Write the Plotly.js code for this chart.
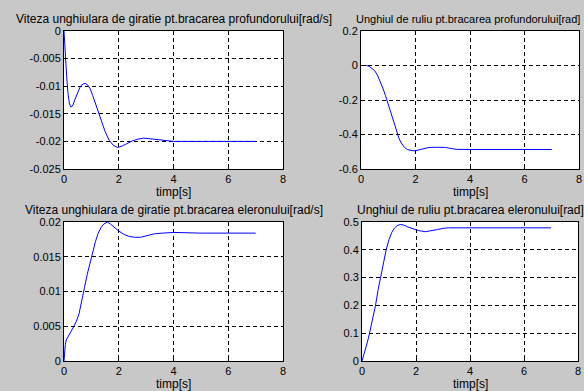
<!DOCTYPE html>
<html>
<head>
<meta charset="utf-8">
<script src="https://cdn.plot.ly/plotly-3.0.1.min.js"></script>
<style>html,body{margin:0;padding:0;background:#c8c8c8;}#chart{width:584px;height:391px;}</style>
</head>
<body>
<div id="chart"></div>
<script>
// Titles
const titles = [
  "Viteza unghiulara de giratie pt.bracarea profundorului[rad/s]",
  "Unghiul de ruliu pt.bracarea profundorului[rad]",
  "Viteza unghiulara de giratie pt.bracarea eleronului[rad/s]",
  "Unghiul de ruliu pt.bracarea eleronului[rad]"
];
const xLabel = "timp[s]";

// X ticks (shared)
const xTickVals = [0, 2, 4, 6, 8];
const xTickText = ["0", "2", "4", "6", "8"];

// Plot 1: yaw rate, elevator
const t1 = [0,0.02,0.05,0.1,0.15,0.2,0.26,0.33,0.4,0.5,0.6,0.7,0.77,0.85,0.95,1.05,1.2,1.35,1.5,1.65,1.8,1.95,2.1,2.3,2.5,2.7,2.9,3.1,3.4,3.7,4.0,5,6,7];
const y1 = [0,-0.002,-0.0048,-0.0085,-0.0115,-0.0132,-0.0138,-0.0134,-0.0124,-0.011,-0.01,-0.0096,-0.0095,-0.0097,-0.0104,-0.0117,-0.0138,-0.0162,-0.0182,-0.0198,-0.0207,-0.0211,-0.0209,-0.0204,-0.0199,-0.0196,-0.0194,-0.0195,-0.0197,-0.0199,-0.02,-0.02,-0.02,-0.02];
const y1TickVals = [0,-0.005,-0.01,-0.015,-0.02,-0.025];
const y1TickText = ["0","-0.005","-0.01","-0.015","-0.02","-0.025"];

// Plot 2: roll angle, elevator
const t2 = [0,0.2,0.3,0.4,0.5,0.6,0.7,0.8,0.9,1.0,1.1,1.2,1.3,1.4,1.5,1.6,1.7,1.8,1.9,2.0,2.1,2.3,2.5,2.8,3.1,3.3,3.5,4,5,6,7];
const y2 = [0,0,-0.005,-0.015,-0.03,-0.055,-0.09,-0.13,-0.175,-0.225,-0.28,-0.33,-0.385,-0.425,-0.455,-0.475,-0.487,-0.492,-0.494,-0.494,-0.49,-0.48,-0.475,-0.474,-0.475,-0.481,-0.486,-0.487,-0.487,-0.487,-0.487];
const y2TickVals = [0.2,0,-0.2,-0.4,-0.6];
const y2TickText = ["0.2","0","-0.2","-0.4","-0.6"];

// Plot 3: yaw rate, aileron
const t3 = [0,0.02,0.05,0.08,0.15,0.25,0.35,0.45,0.55,0.65,0.75,0.85,0.95,1.05,1.15,1.25,1.35,1.45,1.58,1.7,1.85,2.0,2.2,2.4,2.6,2.8,3.0,3.3,3.6,4.0,5,6,7];
const y3 = [0,0.0012,0.0024,0.003,0.0036,0.0042,0.0049,0.0057,0.0068,0.0085,0.0106,0.0125,0.0142,0.0157,0.0172,0.0184,0.0192,0.0197,0.02,0.0197,0.0192,0.0187,0.0182,0.0179,0.0178,0.0178,0.018,0.0183,0.0184,0.0185,0.0184,0.0184,0.0184];
const y3TickVals = [0,0.005,0.01,0.015,0.02];
const y3TickText = ["0","0.005","0.01","0.015","0.02"];

// Plot 4: roll angle, aileron
const t4 = [0,0.1,0.2,0.28,0.4,0.5,0.6,0.7,0.8,0.9,1.0,1.1,1.2,1.3,1.42,1.55,1.7,1.9,2.1,2.35,2.6,2.8,3.0,3.2,4,5,6,7];
const y4 = [0,0.03,0.068,0.1,0.153,0.2,0.258,0.31,0.36,0.402,0.437,0.462,0.478,0.487,0.491,0.489,0.482,0.475,0.469,0.465,0.468,0.473,0.477,0.479,0.479,0.479,0.479,0.479];
const y4TickVals = [0,0.1,0.2,0.3,0.4,0.5];
const y4TickText = ["0","0.1","0.2","0.3","0.4","0.5"];

const W = 584, H = 391;
const FONT = {family: "Liberation Sans, Arial, sans-serif", size: 11, color: "#000"};
const TFONT = {family: "Liberation Sans, Arial, sans-serif", size: 12, color: "#000"};
const line = {color: "#0000ff", width: 1};

const traces = [
  {x: t1, y: y1, xaxis: "x", yaxis: "y", mode: "lines", line},
  {x: t2, y: y2, xaxis: "x2", yaxis: "y2", mode: "lines", line},
  {x: t3, y: y3, xaxis: "x3", yaxis: "y3", mode: "lines", line},
  {x: t4, y: y4, xaxis: "x4", yaxis: "y4", mode: "lines", line}
];

// axes pixel boxes [left, right, top, bottom]
const boxes = [[64,283,31,169],[361,579,31,169],[64,283,222,361],[362,578,222,361]];
const yRanges = [[-0.025,0],[-0.6,0.2],[0,0.02],[0,0.5]];
const yTicks = [[y1TickVals,y1TickText],[y2TickVals,y2TickText],[y3TickVals,y3TickText],[y4TickVals,y4TickText]];

const common = {
  showline: true, mirror: true, linecolor: "#000", linewidth: 1,
  showgrid: true, gridcolor: "#000", gridwidth: 1, griddash: "4px,3px",
  zeroline: false, ticks: "inside", ticklen: 4, tickcolor: "#000",
  tickfont: FONT, tickmode: "array", fixedrange: true
};

const layout = {
  width: W, height: H,
  margin: {l: 0, r: 0, t: 0, b: 0},
  paper_bgcolor: "#c8c8c8", plot_bgcolor: "#ffffff",
  showlegend: false, font: FONT, annotations: []
};

boxes.forEach((b, i) => {
  const s = i === 0 ? "" : String(i + 1);
  layout["xaxis" + s] = Object.assign({}, common, {
    domain: [b[0] / W, b[1] / W], range: [0, 8],
    tickvals: xTickVals, ticktext: xTickText, anchor: "y" + s
  });
  layout["yaxis" + s] = Object.assign({}, common, {
    domain: [1 - b[3] / H, 1 - b[2] / H], range: yRanges[i],
    tickvals: yTicks[i][0], ticktext: yTicks[i][1], anchor: "x" + s
  });
  const cx = (b[0] + b[1]) / 2 / W;
  const title = {
    text: titles[i], xref: "paper", yref: "paper", x: cx, y: 1 - (b[2] - 12) / H,
    xanchor: "center", yanchor: "middle", showarrow: false, font: TFONT
  };
  if (i === 1) { title.x = 582 / W; title.xanchor = "right"; title.font = FONT; }
  layout.annotations.push(title);
  layout.annotations.push({
    text: xLabel, xref: "paper", yref: "paper", x: cx, y: 1 - (b[3] + 23) / H,
    xanchor: "center", yanchor: "middle", showarrow: false, font: TFONT
  });
});

Plotly.newPlot("chart", traces, layout, {displayModeBar: false, staticPlot: true});
</script>
</body>
</html>
